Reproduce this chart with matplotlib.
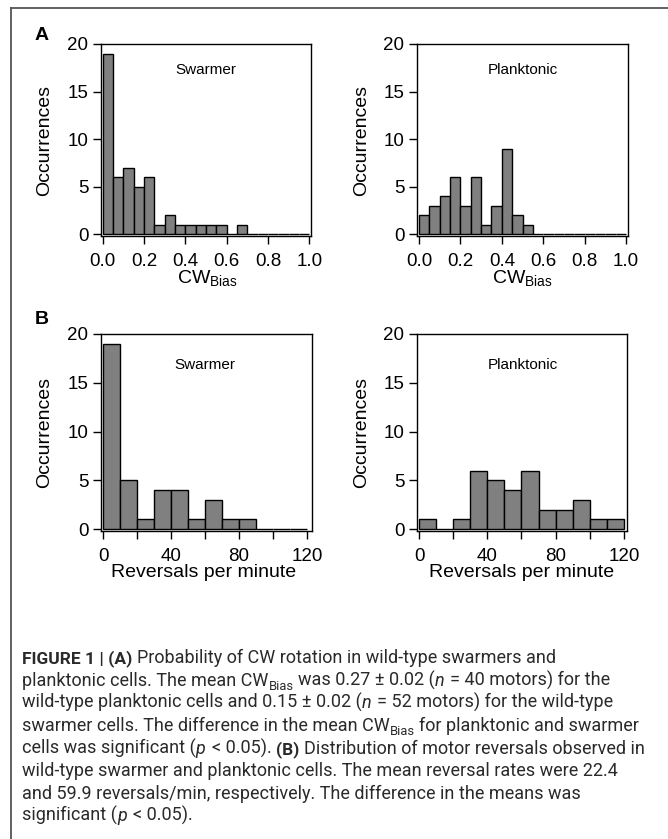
import numpy as np
import matplotlib
matplotlib.use('Agg')
import matplotlib.pyplot as plt
from matplotlib.lines import Line2D

plt.rcParams['font.family'] = ['Liberation Sans', 'DejaVu Sans']
plt.rcParams['mathtext.fontset'] = 'custom'
plt.rcParams['mathtext.rm'] = 'Liberation Sans'
plt.rcParams['mathtext.it'] = 'Liberation Sans:italic'

# histogram data (counts per bin)
cw_edges = np.linspace(0, 1, 21)
cw_swarmer = [19, 6, 7, 5, 6, 1, 2, 1, 1, 1, 1, 1, 0, 1, 0, 0, 0, 0, 0, 0]
cw_planktonic = [2, 3, 4, 6, 3, 6, 1, 3, 9, 2, 1, 0, 0, 0, 0, 0, 0, 0, 0, 0]

rev_edges = np.arange(0, 121, 10)
rev_swarmer = [19, 5, 1, 4, 4, 1, 3, 1, 1, 0, 0, 0]
rev_planktonic = [1, 0, 1, 6, 5, 4, 6, 2, 2, 3, 1, 1]

cw_ticks = [0.0, 0.2, 0.4, 0.6, 0.8, 1.0]
cw_ticklabels = ['0.0', '0.2', '0.4', '0.6', '0.8', '1.0']
rev_ticks = [0, 40, 80, 120]
rev_minor = [20, 60, 100]
y_ticks = [0, 5, 10, 15, 20]

W, H = 668, 839
fig = plt.figure(figsize=(W / 100, H / 100), dpi=100)


def fx(x):
    return x / W


def fy(y):
    return 1 - y / H


def add_ax(x0, y0, x1, y1):
    return fig.add_axes([fx(x0), fy(y1), (x1 - x0) / W, (y1 - y0) / H])


def panel(ax, edges, counts, xlim, xticks, xlabels, minor=None):
    ax.bar(edges[:-1], counts, width=np.diff(edges), align='edge',
           color='#808080', edgecolor='black', linewidth=1, zorder=2)
    ax.set_xlim(xlim)
    ax.set_ylim(-0.2, 20)
    ax.set_yticks(y_ticks)
    ax.set_xticks(xticks)
    ax.set_xticklabels(xlabels)
    if minor is not None:
        ax.set_xticks(minor, minor=True)
    for s in ax.spines.values():
        s.set_linewidth(1)
    ax.tick_params(which='both', direction='out', length=6, width=1,
                   labelsize=13.5, colors='black')
    ax.tick_params(axis='x', which='both', pad=6)
    ax.tick_params(axis='y', pad=3)


axA1 = add_ax(101, 44, 311, 236)
panel(axA1, cw_edges, cw_swarmer, (-0.008, 1.008), cw_ticks, cw_ticklabels)
axA2 = add_ax(417, 44, 628, 236)
panel(axA2, cw_edges, cw_planktonic, (-0.01, 1.01), cw_ticks, cw_ticklabels)
axB1 = add_ax(101, 334, 312, 531)
panel(axB1, rev_edges, rev_swarmer, (-1.2, 122.9), rev_ticks,
      [str(t) for t in rev_ticks], rev_minor)
axB2 = add_ax(417, 334, 627, 531)
panel(axB2, rev_edges, rev_planktonic, (-1.2, 121.8), rev_ticks,
      [str(t) for t in rev_ticks], rev_minor)

# labels
for x, y in [(45, 140), (362, 140), (45, 432), (362, 432)]:
    fig.text(fx(x), fy(y), 'Occurrences', rotation=90, ha='center', va='center', fontsize=14)
for x in [207, 522]:
    fig.text(fx(x), fy(283), r'CW$_{\mathrm{Bias}}$', ha='center', va='baseline', fontsize=14)
for x in [204, 522]:
    fig.text(fx(x), fy(577), 'Reversals per minute', ha='center', va='baseline', fontsize=14)
for x, y, s in [(206, 70, 'Swarmer'), (523, 70, 'Planktonic'),
                (205, 365, 'Swarmer'), (523, 365, 'Planktonic')]:
    fig.text(fx(x), fy(y), s, ha='center', va='center', fontsize=11)

fig.text(fx(35), fy(35), 'A', ha='left', va='center', fontsize=14, fontweight='bold')
fig.text(fx(35), fy(319), 'B', ha='left', va='center', fontsize=14, fontweight='bold')

# frame around figure
fig.add_artist(Line2D([fx(11), fx(668)], [fy(8), fy(8)], color='#555555', lw=1.3))
fig.add_artist(Line2D([fx(11), fx(11)], [fy(8), fy(839)], color='#555555', lw=1.3))

# caption
cap_size = 13
cap_font = 'Roboto'
styles = {
    'n': dict(fontweight='normal'),
    'b': dict(fontweight='bold'),
    'i': dict(fontweight='normal', fontstyle='italic'),
    's': dict(fontweight='normal'),
}
caption = [
    [('FIGURE 1 | (A)', 'b'), (' Probability of CW rotation in wild-type swarmers and', 'n')],
    [('planktonic cells. The mean CW', 'n'), ('Bias', 's'), (' was 0.27 \u00b1 0.02 (', 'n'),
     ('n', 'i'), (' = 40 motors) for the', 'n')],
    [('wild-type planktonic cells and 0.15 \u00b1 0.02 (', 'n'), ('n', 'i'),
     (' = 52 motors) for the wild-type', 'n')],
    [('swarmer cells. The difference in the mean CW', 'n'), ('Bias', 's'),
     (' for planktonic and swarmer', 'n')],
    [('cells was significant (', 'n'), ('p', 'i'), (' < 0.05). ', 'n'), ('(B)', 'b'),
     (' Distribution of motor reversals observed in', 'n')],
    [('wild-type swarmer and planktonic cells. The mean reversal rates were 22.4', 'n')],
    [('and 59.9 reversals/min, respectively. The difference in the means was', 'n')],
    [('significant (', 'n'), ('p', 'i'), (' < 0.05).', 'n')],
]
line_y = [663, 686, 708, 731, 754, 776, 799, 821]

renderer = fig.canvas.get_renderer()


def width_of(s, size, **kw):
    t = fig.text(0, 0, s, fontsize=size, family=cap_font, **kw)
    w = t.get_window_extent(renderer).width
    t.remove()
    return w


for segs, y in zip(caption, line_y):
    x = 22
    for txt, st in segs:
        if st == 's':
            size = cap_size * 0.72
        elif st == 'b':
            size = cap_size * 0.96
        else:
            size = cap_size
        kw = styles[st]
        sw = width_of('x x', size, **kw) - width_of('xx', size, **kw)
        lead = len(txt) - len(txt.lstrip(' '))
        trail = len(txt) - len(txt.rstrip(' '))
        core = txt.strip(' ')
        x += lead * sw
        yy = y + 4 if st == 's' else y
        t = fig.text(fx(x), fy(yy), core, fontsize=size, family=cap_font,
                     color='#2a2a2a', ha='left', va='baseline', **kw)
        x += t.get_window_extent(renderer).width + trail * sw
        if st == 'i':
            x += 1.5

fig.savefig('out.png', dpi=100)
